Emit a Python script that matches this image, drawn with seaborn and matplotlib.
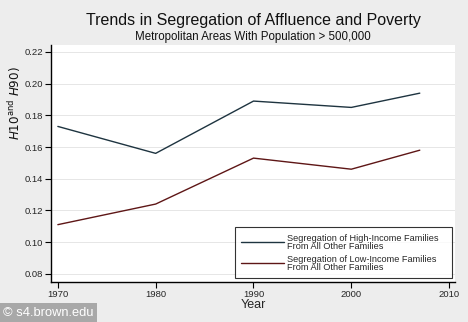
import matplotlib
matplotlib.use("Agg")
import matplotlib.pyplot as plt
import seaborn as sns
import pandas as pd

years = [1970, 1980, 1990, 2000, 2007]
high_income = [0.173, 0.156, 0.189, 0.185, 0.194]
low_income = [0.111, 0.124, 0.153, 0.146, 0.158]
x_ticks = [1970, 1980, 1990, 2000, 2010]
y_ticks = [0.08, 0.10, 0.12, 0.14, 0.16, 0.18, 0.20, 0.22]
label_high = "Segregation of High-Income Families   \nFrom All Other Families"
label_low = "Segregation of Low-Income Families\nFrom All Other Families"

df = pd.DataFrame({
    "Year": years * 2,
    "value": high_income + low_income,
    "series": [label_high] * len(years) + [label_low] * len(years),
})

sns.set_style("white")
plt.rcParams["font.family"] = ["Liberation Sans", "DejaVu Sans"]

fig = plt.figure(figsize=(4.68, 3.22), dpi=100)
fig.patch.set_facecolor("#ededed")
ax = fig.add_axes([51 / 468, 1 - 282 / 322, (455 - 51) / 468, (282 - 45) / 322])
ax.set_facecolor("white")

palette = {label_high: "#1e3440", label_low: "#5e1616"}
sns.lineplot(data=df, x="Year", y="value", hue="series", palette=palette,
             linewidth=1.0, ax=ax, legend=True)

ax.set_xlim(1969.3, 2010.6)
ax.set_ylim(0.0748, 0.2244)
ax.set_xticks(x_ticks)
ax.set_yticks(y_ticks)
ax.set_xticklabels([str(v) for v in x_ticks], fontsize=6.8)
ax.set_yticklabels([f"{v:.2f}" for v in y_ticks], fontsize=6.8)
ax.tick_params(axis="both", which="both", direction="out", length=4, width=0.8,
               color="black", pad=1.5, left=True, bottom=True)
ax.yaxis.grid(True, color="#e6e6e6", linewidth=0.7)
ax.xaxis.grid(False)
for s in ["top", "right"]:
    ax.spines[s].set_visible(False)
for s in ["left", "bottom"]:
    ax.spines[s].set_color("black")
    ax.spines[s].set_linewidth(1.0)

ax.set_xlabel("Year", fontsize=9, labelpad=0)
ax.set_ylabel("")
fig.text(15 / 468, 1 - 103 / 322, r"$H10^{\mathrm{and}}\ H90)$", rotation=90,
         ha="center", va="center", fontsize=8.6, color="#111111")

leg = ax.legend(loc="lower right", bbox_to_anchor=(0.9926, 0.0169), fontsize=6.6,
                frameon=True, fancybox=False, handlelength=4.7,
                handletextpad=0.25, borderpad=0.7, borderaxespad=0,
                labelspacing=0.45, title=None)
leg.get_frame().set_edgecolor("black")
leg.get_frame().set_linewidth(0.8)
for t in leg.get_texts():
    t.set_linespacing(0.85)

fig.text(253 / 468, 1 - 20 / 322, "Trends in Segregation of Affluence and Poverty",
         ha="center", va="center", fontsize=11.5, color="#111111")
fig.text(253 / 468, 1 - 37 / 322, "Metropolitan Areas With Population > 500,000",
         ha="center", va="center", fontsize=8.3, color="#111111")

fig.text(3 / 468, 1 - 313 / 322, "\u00a9 s4.brown.edu", ha="left", va="center",
         fontsize=9.3, color="white",
         bbox=dict(boxstyle="square,pad=0.3", facecolor="#a8a8a8", edgecolor="none"))

fig.savefig("out.png", dpi=100, facecolor=fig.get_facecolor())
